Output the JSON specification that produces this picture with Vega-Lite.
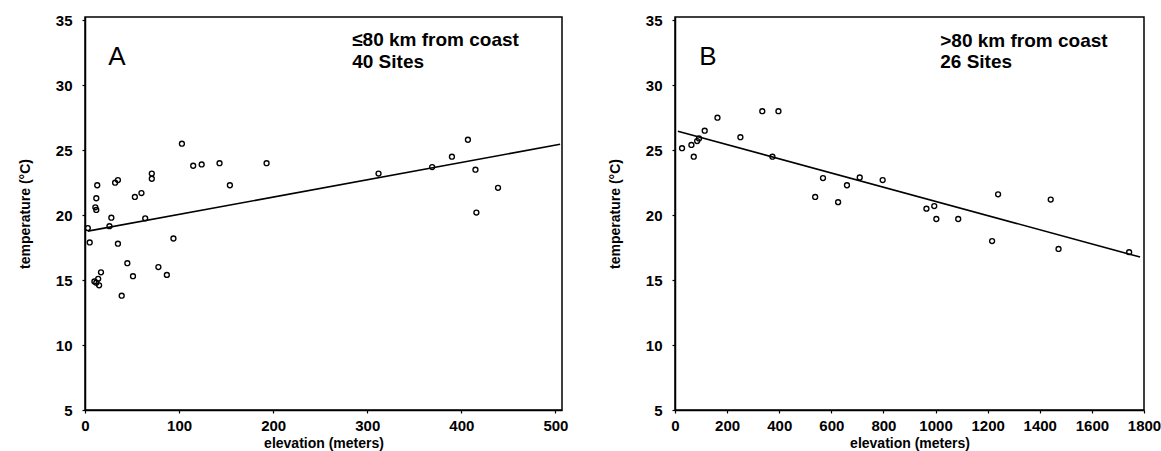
{
  "$schema": "https://vega.github.io/schema/vega-lite/v6.json",
  "background": "white",
  "padding": {"left": 17, "top": 12, "right": 0, "bottom": 0},
  "spacing": 38,
  "datasets": {
    "coastal": [
      {"elevation": 3, "temperature": 19.0}, {"elevation": 5, "temperature": 17.9},
      {"elevation": 13, "temperature": 22.3}, {"elevation": 12, "temperature": 21.3},
      {"elevation": 11, "temperature": 20.6}, {"elevation": 12, "temperature": 20.4},
      {"elevation": 28, "temperature": 19.8}, {"elevation": 26, "temperature": 19.15},
      {"elevation": 32, "temperature": 22.5}, {"elevation": 35, "temperature": 22.7},
      {"elevation": 53, "temperature": 21.4}, {"elevation": 60, "temperature": 21.7},
      {"elevation": 64, "temperature": 19.75}, {"elevation": 71, "temperature": 23.2},
      {"elevation": 71, "temperature": 22.8}, {"elevation": 103, "temperature": 25.5},
      {"elevation": 115, "temperature": 23.8}, {"elevation": 124, "temperature": 23.9},
      {"elevation": 143, "temperature": 24.0}, {"elevation": 154, "temperature": 22.3},
      {"elevation": 193, "temperature": 24.0}, {"elevation": 35, "temperature": 17.8},
      {"elevation": 45, "temperature": 16.3}, {"elevation": 51, "temperature": 15.3},
      {"elevation": 39, "temperature": 13.8}, {"elevation": 17, "temperature": 15.6},
      {"elevation": 14, "temperature": 15.1}, {"elevation": 10, "temperature": 14.9},
      {"elevation": 12, "temperature": 14.8}, {"elevation": 15, "temperature": 14.6},
      {"elevation": 78, "temperature": 16.0}, {"elevation": 87, "temperature": 15.4},
      {"elevation": 94, "temperature": 18.2}, {"elevation": 312, "temperature": 23.2},
      {"elevation": 369, "temperature": 23.7}, {"elevation": 390, "temperature": 24.5},
      {"elevation": 407, "temperature": 25.8}, {"elevation": 415, "temperature": 23.5},
      {"elevation": 439, "temperature": 22.1}, {"elevation": 416, "temperature": 20.2}
    ],
    "coastalFit": [
      {"elevation": 3, "temperature": 18.77}, {"elevation": 505, "temperature": 25.45}
    ],
    "coastalText": [
      {"elevation": 34, "temperature": 32.15, "label": "A", "kind": "panel"},
      {"elevation": 284, "temperature": 33.46, "label": "≤80 km from coast", "kind": "note"},
      {"elevation": 284, "temperature": 31.77, "label": "40 Sites", "kind": "note"}
    ],
    "inland": [
      {"elevation": 27, "temperature": 25.15}, {"elevation": 63, "temperature": 25.4},
      {"elevation": 72, "temperature": 24.5}, {"elevation": 85, "temperature": 25.7},
      {"elevation": 92, "temperature": 25.9}, {"elevation": 114, "temperature": 26.5},
      {"elevation": 163, "temperature": 27.5}, {"elevation": 251, "temperature": 26.0},
      {"elevation": 335, "temperature": 28.0}, {"elevation": 397, "temperature": 28.0},
      {"elevation": 374, "temperature": 24.5}, {"elevation": 538, "temperature": 21.4},
      {"elevation": 568, "temperature": 22.85}, {"elevation": 626, "temperature": 21.0},
      {"elevation": 660, "temperature": 22.3}, {"elevation": 709, "temperature": 22.9},
      {"elevation": 797, "temperature": 22.7}, {"elevation": 965, "temperature": 20.5},
      {"elevation": 995, "temperature": 20.7}, {"elevation": 1003, "temperature": 19.7},
      {"elevation": 1087, "temperature": 19.7}, {"elevation": 1217, "temperature": 18.0},
      {"elevation": 1240, "temperature": 21.6}, {"elevation": 1442, "temperature": 21.2},
      {"elevation": 1472, "temperature": 17.4}, {"elevation": 1743, "temperature": 17.15}
    ],
    "inlandFit": [
      {"elevation": 11, "temperature": 26.46}, {"elevation": 1785, "temperature": 16.77}
    ],
    "inlandText": [
      {"elevation": 126, "temperature": 32.2, "label": "B", "kind": "panel"},
      {"elevation": 1018, "temperature": 33.4, "label": ">80 km from coast", "kind": "note"},
      {"elevation": 1018, "temperature": 31.77, "label": "26 Sites", "kind": "note"}
    ]
  },
  "hconcat": [
    {
      "width": 477,
      "height": 393,
      "encoding": {
        "x": {"field": "elevation", "type": "quantitative", "title": "elevation (meters)",
              "scale": {"domain": [0, 507], "nice": false, "zero": false},
              "axis": {"values": [0, 100, 200, 300, 400, 500], "format": "d"}},
        "y": {"field": "temperature", "type": "quantitative", "title": "temperature (°C)",
              "scale": {"domain": [5, 35.25], "nice": false, "zero": false},
              "axis": {"values": [5, 10, 15, 20, 25, 30, 35]}}
      },
      "layer": [
        {"data": {"name": "coastalFit"}, "mark": {"type": "line", "color": "black", "strokeWidth": 1.6}},
        {"data": {"name": "coastal"}, "mark": {"type": "point", "shape": "circle", "filled": false, "color": "black", "size": 24, "strokeWidth": 1.4, "opacity": 1}},
        {"data": {"name": "coastalText"}, "transform": [{"filter": "datum.kind == 'panel'"}],
         "mark": {"type": "text", "align": "center", "baseline": "middle", "font": "Liberation Sans", "fontSize": 26, "color": "black"},
         "encoding": {"text": {"field": "label"}}},
        {"data": {"name": "coastalText"}, "transform": [{"filter": "datum.kind == 'note'"}],
         "mark": {"type": "text", "align": "left", "baseline": "middle", "font": "Liberation Sans", "fontSize": 19, "fontWeight": "bold", "color": "black"},
         "encoding": {"text": {"field": "label"}}}
      ]
    },
    {
      "width": 469,
      "height": 393,
      "encoding": {
        "x": {"field": "elevation", "type": "quantitative", "title": "elevation (meters)",
              "scale": {"domain": [0, 1800], "nice": false, "zero": false},
              "axis": {"values": [0, 200, 400, 600, 800, 1000, 1200, 1400, 1600, 1800], "format": "d"}},
        "y": {"field": "temperature", "type": "quantitative", "title": "temperature (°C)",
              "scale": {"domain": [5, 35.25], "nice": false, "zero": false},
              "axis": {"values": [5, 10, 15, 20, 25, 30, 35]}}
      },
      "layer": [
        {"data": {"name": "inlandFit"}, "mark": {"type": "line", "color": "black", "strokeWidth": 1.6}},
        {"data": {"name": "inland"}, "mark": {"type": "point", "shape": "circle", "filled": false, "color": "black", "size": 24, "strokeWidth": 1.4, "opacity": 1}},
        {"data": {"name": "inlandText"}, "transform": [{"filter": "datum.kind == 'panel'"}],
         "mark": {"type": "text", "align": "center", "baseline": "middle", "font": "Liberation Sans", "fontSize": 26, "color": "black"},
         "encoding": {"text": {"field": "label"}}},
        {"data": {"name": "inlandText"}, "transform": [{"filter": "datum.kind == 'note'"}],
         "mark": {"type": "text", "align": "left", "baseline": "middle", "font": "Liberation Sans", "fontSize": 19, "fontWeight": "bold", "color": "black"},
         "encoding": {"text": {"field": "label"}}}
      ]
    }
  ],
  "config": {
    "view": {"stroke": "black", "strokeWidth": 1.5},
    "axis": {
      "grid": false,
      "domainColor": "black", "domainWidth": 1.5,
      "tickColor": "black", "tickSize": 3, "tickWidth": 1.2,
      "labelFont": "Liberation Sans", "labelFontSize": 15, "labelFontWeight": "bold", "labelColor": "black",
      "titleFont": "Liberation Sans", "titleFontSize": 14, "titleFontWeight": "bold", "titleColor": "black",
      "labelFlush": false
    },
    "axisX": {"labelPadding": 5, "titlePadding": 3},
    "axisY": {"labelPadding": 10, "titlePadding": 23}
  }
}
